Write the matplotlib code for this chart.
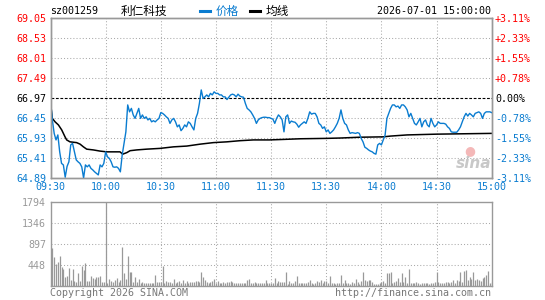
import numpy as np
import matplotlib
matplotlib.use("Agg")
import matplotlib.pyplot as plt
from matplotlib.lines import Line2D

# ---------------- data ----------------
prev_close = 66.97
# price per minute, 09:30 .. 15:00 (241 points, lunch break removed)
price = [
    66.90, 66.40, 66.05, 65.88, 66.01, 65.57, 65.27, 65.23, 64.91, 65.19,
    65.31, 65.75, 65.79, 65.57, 65.36, 65.31, 65.27, 65.18, 64.89, 65.23,
    65.18, 65.23, 65.14, 65.10, 65.05, 65.01, 64.97, 65.23, 65.18, 65.27,
    65.57, 65.44, 65.40, 65.31, 65.18, 65.17, 65.18, 65.14, 65.05, 65.49,
    65.79, 66.09, 66.79, 66.61, 66.70, 66.53, 66.44, 66.57, 66.70, 66.44,
    66.53, 66.44, 66.48, 66.40, 66.44, 66.35, 66.38, 66.35, 66.40, 66.44,
    66.59, 66.57, 66.53, 66.48, 66.44, 66.31, 66.40, 66.44, 66.35, 66.22,
    66.27, 66.12, 66.18, 66.27, 66.22, 66.35, 66.31, 66.22, 66.14, 66.44,
    66.57, 66.83, 67.18, 66.96, 67.00, 67.05, 67.00, 67.09, 67.05, 67.13,
    67.09, 67.09, 67.05, 67.05, 67.00, 67.00, 66.93, 66.99, 67.05, 67.07,
    67.05, 67.00, 67.07, 67.02, 67.00, 66.99, 66.83, 66.70, 66.66, 66.61,
    66.53, 66.44, 66.31, 66.40, 66.44, 66.46, 66.47, 66.47, 66.46, 66.46,
    66.44, 66.42, 66.31, 66.44, 66.53, 66.48, 66.40, 66.09, 66.48, 66.53,
    66.31, 66.37, 66.35, 66.34, 66.29, 66.21, 66.27, 66.31, 66.35, 66.31,
    66.44, 66.61, 66.55, 66.57, 66.57, 66.48, 66.31, 66.27, 66.18, 66.22,
    66.09, 66.14, 66.05, 66.09, 66.14, 66.22, 66.31, 66.44, 66.66, 66.44,
    66.31, 66.27, 66.14, 66.05, 66.07, 66.06, 66.05, 66.07, 66.05, 65.92,
    65.83, 65.69, 65.66, 65.62, 65.59, 65.57, 65.53, 65.51, 65.75, 65.79,
    65.75, 65.88, 66.00, 66.44, 66.57, 66.70, 66.79, 66.79, 66.74, 66.76,
    66.70, 66.79, 66.79, 66.74, 66.66, 66.48, 66.57, 66.44, 66.31, 66.27,
    66.35, 66.44, 66.22, 66.35, 66.40, 66.27, 66.22, 66.44, 66.31, 66.22,
    66.27, 66.35, 66.31, 66.31, 66.31, 66.29, 66.22, 66.18, 66.09, 66.08,
    66.08, 66.08, 66.14, 66.22, 66.35, 66.48, 66.57, 66.50, 66.57, 66.53,
    66.48, 66.57, 66.59, 66.61, 66.57, 66.44, 66.57, 66.61, 66.61, 66.61,
    66.59,
]
# average-price line, read at the minutes below
avg_minutes = [0, 1, 2.5, 4.3, 6.1, 7.9, 8.8, 10.6, 14.2, 16.1, 17.9, 19.7,
               23.3, 26.9, 30.6, 37.8, 39.3, 41.5, 43.3, 46.9, 52.3, 59.6,
               66.9, 74.1, 81.4, 88.6, 95.9, 103.1, 110.4, 119, 125, 136,
               150, 158, 168, 181, 185, 194, 210, 225, 240]
avg_values = [66.85, 66.44, 66.35, 66.27, 66.14, 65.96, 65.88, 65.83, 65.81,
              65.77, 65.70, 65.64, 65.62, 65.59, 65.57, 65.57, 65.51, 65.55,
              65.60, 65.62, 65.64, 65.66, 65.70, 65.72, 65.77, 65.81, 65.83,
              65.86, 65.88, 65.88, 65.89, 65.91, 65.92, 65.93, 65.95, 65.96,
              65.98, 66.01, 66.03, 66.04, 66.05]
volume = [
    277, 795, 618, 461, 511, 632, 390, 355, 192, 213,
    369, 120, 355, 107, 85, 277, 107, 419, 334, 490,
    100, 107, 206, 156, 135, 178, 178, 206, 71, 85,
    1794, 64, 135, 100, 85, 121, 170, 85, 121, 817,
    277, 135, 632, 298, 298, 85, 178, 85, 135, 64,
    71, 64, 64, 50, 64, 50, 64, 227, 85, 85,
    71, 419, 64, 107, 85, 71, 64, 135, 64, 85,
    107, 64, 121, 50, 107, 64, 85, 71, 85, 100,
    107, 85, 298, 178, 121, 71, 64, 71, 107, 135,
    50, 107, 64, 50, 71, 64, 71, 85, 107, 71,
    64, 64, 50, 50, 50, 50, 50, 121, 135, 50,
    64, 71, 64, 50, 50, 50, 60, 121, 64, 50,
    50, 64, 156, 50, 107, 85, 71, 71, 284, 35,
    107, 50, 64, 107, 206, 50, 64, 50, 50, 64,
    85, 121, 50, 35, 50, 107, 85, 121, 64, 107,
    107, 50, 206, 64, 50, 35, 50, 64, 227, 64,
    121, 50, 50, 35, 85, 50, 135, 85, 35, 107,
    298, 121, 107, 121, 121, 85, 35, 35, 35, 50,
    85, 107, 64, 277, 263, 298, 64, 85, 107, 156,
    85, 263, 71, 178, 64, 355, 50, 64, 50, 71,
    64, 35, 50, 50, 64, 50, 35, 50, 64, 85,
    298, 71, 50, 64, 50, 71, 71, 64, 85, 121,
    64, 121, 107, 298, 85, 320, 334, 121, 178, 135,
    298, 121, 135, 121, 107, 156, 178, 227, 305, 64,
    85,
]
price_ticks = [69.05, 68.53, 68.01, 67.49, 66.97, 66.45, 65.93, 65.41, 64.89]
pct_labels = ["+3.11%", "+2.33%", "+1.55%", "+0.78%", "0.00%",
              "-0.78%", "-1.55%", "-2.33%", "-3.11%"]
time_ticks = [0, 30, 60, 90, 120, 150, 180, 210, 240]
time_labels = ["09:30", "10:00", "10:30", "11:00", "11:30",
               "13:30", "14:00", "14:30", "15:00"]
vol_ticks = [448, 897, 1346, 1794]
vol_max = 1794

# ---------------- styling ----------------
BLUE = "#0a7cd0"
RED = "#ff0000"
GRAY = "#999999"
GRID = "#aaaaaa"
MONO = "DejaVu Sans Mono"
CJK = ["Noto Sans CJK SC", "DejaVu Sans"]
FS = 7.2

W, H = 545, 300
fig = plt.figure(figsize=(W / 100, H / 100), dpi=100)


def fx(px):
    return px / W


def fy(py):
    return 1 - py / H


L, R = 50.5, 491.7
ax = fig.add_axes([fx(L), fy(178), (R - L) / W, 160 / H])
axv = fig.add_axes([fx(L), fy(285.7), (R - L) / W, 84 / H])

minutes = np.arange(len(price))

# ---- price panel
ax.set_xlim(0, 240)
ax.set_ylim(min(price_ticks), max(price_ticks))
for v in price_ticks[1:-1]:
    if v == prev_close:
        ax.axhline(v, color="black", lw=0.8, ls=(0, (2.5, 1.5)), zorder=1)
    else:
        ax.axhline(v, color=GRID, lw=0.75, ls=(0, (1, 2)), zorder=1)
for t in time_ticks[1:-1]:
    ax.axvline(t, color=GRID, lw=0.75, ls=(0, (1, 2)), zorder=1)

ax.plot(minutes, price, color=BLUE, lw=1.0, zorder=3)
ax.plot(avg_minutes, avg_values, color="black", lw=1.1, zorder=2)

ax.set_yticks(price_ticks)
ax.set_yticklabels([f"{v:.2f}" for v in price_ticks], fontfamily=MONO, fontsize=FS)
for lab, v in zip(ax.get_yticklabels(), price_ticks):
    lab.set_color(RED if v > prev_close else ("black" if v == prev_close else BLUE))
ax.set_xticks(time_ticks)
ax.set_xticklabels(time_labels, fontfamily=MONO, fontsize=FS, color=BLUE)
ax.tick_params(axis="both", length=0)
ax.tick_params(axis="y", pad=3.2)
ax.tick_params(axis="x", pad=3.0)

axr = ax.twinx()
axr.set_ylim(ax.get_ylim())
axr.set_yticks(price_ticks)
axr.set_yticklabels(pct_labels, fontfamily=MONO, fontsize=FS)
for lab, v in zip(axr.get_yticklabels(), price_ticks):
    lab.set_color(RED if v > prev_close else ("black" if v == prev_close else BLUE))
axr.tick_params(axis="y", length=0, pad=2.4)

for a in (ax, axr, axv):
    for s in a.spines.values():
        s.set_color(GRAY)
        s.set_linewidth(1.0)

# ---- volume panel
axv.set_xlim(0, 240)
axv.set_ylim(0, vol_max)
for v in vol_ticks[:-1]:
    axv.axhline(v, color=GRID, lw=0.75, ls=(0, (1, 2)), zorder=1)
for t in time_ticks[1:-1]:
    axv.axvline(t, color=GRID, lw=0.75, ls=(0, (1, 2)), zorder=1)
axv.vlines(minutes, 0, volume, color=GRAY, lw=0.9, zorder=2)
axv.set_yticks(vol_ticks)
axv.set_yticklabels([str(v) for v in vol_ticks], fontfamily=MONO, fontsize=FS, color=GRAY)
axv.set_xticks([])
axv.tick_params(axis="y", length=0, pad=3.2)

# ---- header texts
fig.text(fx(50), fy(11), "sz001259", fontfamily=MONO, fontsize=FS, color="black",
         ha="left", va="center")
fig.text(fx(121), fy(11), "利仁科技", family=CJK, fontsize=8.4, color="black",
         ha="left", va="center")
fig.add_artist(Line2D([fx(200), fx(210)], [fy(10.5), fy(10.5)], color=BLUE, lw=2.2))
fig.text(fx(216), fy(11), "价格", family=CJK, fontsize=8.4, color=BLUE,
         ha="left", va="center")
fig.add_artist(Line2D([fx(250), fx(260)], [fy(10.5), fy(10.5)], color="black", lw=2.2))
fig.text(fx(266), fy(11), "均线", family=CJK, fontsize=8.4, color="black",
         ha="left", va="center")
fig.text(fx(491), fy(11), "2026-07-01 15:00:00", fontfamily=MONO, fontsize=FS,
         color="black", ha="right", va="center")

# ---- footer texts
fig.text(fx(50), fy(292.5), "Copyright 2026 SINA.COM", fontfamily=MONO, fontsize=FS,
         color="#777777", ha="left", va="center")
fig.text(fx(491), fy(292.5), "http://finance.sina.com.cn", fontfamily=MONO, fontsize=FS,
         color="#777777", ha="right", va="center")

# ---- watermark
fig.text(fx(470), fy(151), "●", fontsize=9, color="#f4b8b8", ha="center", va="center")
fig.text(fx(474), fy(164), "sina", fontsize=11, fontweight="bold", fontstyle="italic",
         color="#c8c8c8", ha="center", va="center")

fig.savefig("out.png", dpi=100)
